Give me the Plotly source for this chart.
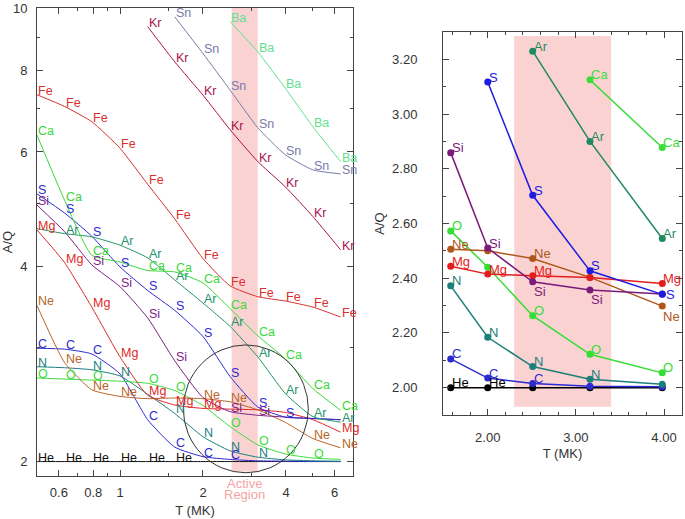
import math
import plotly.graph_objects as go

# ---------------- data ----------------
T = [0.50, 0.63, 0.79, 1.00, 1.26, 1.58, 2.00, 2.51, 3.16, 3.98, 5.01, 6.31]

He = [2.0, 2.0, 2.0, 2.0, 2.0, 2.0, 2.0, 2.0, 2.0, 2.0, 2.0, 2.0]
C = [2.99, 2.98, 2.93, 2.73, 2.32, 2.105, 2.035, 2.015, 2.005, 2.003, 2.001, 2.0]
N = [2.80, 2.79, 2.77, 2.71, 2.54, 2.372, 2.184, 2.077, 2.031, 2.012, 2.005, 2.002]
O = [2.69, 2.68, 2.67, 2.66, 2.64, 2.573, 2.44, 2.263, 2.122, 2.054, 2.025, 2.015]
Ne = [3.48, 2.84, 2.58, 2.52, 2.50, 2.506, 2.50, 2.472, 2.403, 2.298, 2.17, 2.10]
Mg = [4.55, 4.05, 3.46, 2.90, 2.53, 2.444, 2.415, 2.409, 2.403, 2.381, 2.32, 2.22]
Si = [4.97, 4.52, 4.02, 3.72, 3.33, 2.859, 2.51, 2.387, 2.357, 2.342, 2.33, 2.32]
S = [5.17, 4.83, 4.45, 3.99, 3.67, 3.42, 3.117, 2.703, 2.427, 2.341, 2.33, 2.32]
Ar = [4.57, 4.49, 4.44, 4.31, 4.12, 3.81, 3.51, 3.23, 2.90, 2.545, 2.345, 2.30]
Ca = [6.37, 5.05, 4.16, 4.06, 3.94, 3.92, 3.77, 3.44, 3.125, 2.878, 2.59, 2.40]
Fe = [7.35, 7.05, 6.68, 6.08, 5.35, 4.73, 4.11, 3.73, 3.59, 3.535, 3.46, 3.34]
Kr = [None, None, None, None, 9.36, 8.26, 7.34, 6.49, 5.80, 5.30, 4.77, 4.24]
Sn = [None, None, None, None, None, 9.69, 8.51, 7.47, 6.54, 5.94, 5.63, 5.55]
Ba = [None, None, None, None, None, None, None, 9.53, 8.56, 7.52, 6.56, 5.80]

elements = ["He", "C", "N", "O", "Ne", "Mg", "Si", "S", "Ar", "Ca", "Fe", "Kr", "Sn", "Ba"]
values = {"He": He, "C": C, "N": N, "O": O, "Ne": Ne, "Mg": Mg, "Si": Si, "S": S,
          "Ar": Ar, "Ca": Ca, "Fe": Fe, "Kr": Kr, "Sn": Sn, "Ba": Ba}

# indices (on T) where a label is printed in the left panel
left_labels = {
    "He": [0, 1, 2, 3, 4, 5],
    "C": [0, 1, 2, 4, 5, 6, 7],
    "N": [0, 2, 3, 5, 6, 7, 8],
    "O": [0, 1, 2, 4, 5, 7, 8, 9, 10],
    "Ne": [0, 1, 2, 3, 6, 7, 10, 11],
    "Mg": [0, 1, 2, 3, 4, 5, 6, 11],
    "Si": [0, 2, 3, 4, 5, 7, 8],
    "S": [0, 1, 2, 3, 4, 5, 6, 7, 8, 9],
    "Ar": [1, 3, 4, 5, 6, 7, 8, 9, 10, 11],
    "Ca": [0, 1, 2, 4, 5, 6, 7, 8, 9, 10, 11],
    "Fe": list(range(12)),
    "Kr": list(range(4, 12)),
    "Sn": list(range(5, 12)),
    "Ba": list(range(7, 12)),
}

# right panel: temperatures shown (T[5:10]) and label placement per point
RIGHT_START = 5
right_labels = {
    "He": {0: "tr", 1: "tr"},
    "C": {0: "tr", 1: "tr", 2: "tr"},
    "N": {0: "tr", 1: "tr", 2: "tr", 3: "tr"},
    "O": {0: "tr", 2: "tr", 3: "tr", 4: "tr"},
    "Ne": {0: "tr", 2: "tr", 4: "br"},
    "Mg": {0: "tr", 1: "tr", 2: "tr", 4: "tr"},
    "Si": {0: "tr", 1: "tr", 2: "br", 3: "br"},
    "S": {1: "tr", 2: "tr", 3: "tr", 4: "mr"},
    "Ar": {2: "tr", 3: "tr", 4: "tr"},
    "Ca": {3: "tr", 4: "tr"},
}

left_colors = {
    "He": "#111111", "C": "#2b2bd0", "N": "#1b7f80", "O": "#3ddc3d",
    "Ne": "#b8652a", "Mg": "#e02828", "Si": "#7d1f86", "S": "#2a2ad6",
    "Ar": "#22936a", "Ca": "#38d838", "Fe": "#d83030", "Kr": "#a8124e",
    "Sn": "#7a7aa8", "Ba": "#5fe08f",
}
right_colors = {
    "He": "#000000", "C": "#2b2bd0", "N": "#1b7f7a", "O": "#33dd33",
    "Ne": "#b0561a", "Mg": "#e41c1c", "Si": "#7a1a7a", "S": "#1c1ce0",
    "Ar": "#1f8a62", "Ca": "#3cdc3c",
}

band_left = [2.54, 3.16]
band_right = [2.30, 3.40]
YMAX_R = 3.3

# ---------------- geometry ----------------
W, H = 685, 519
def px_x(a, b):
    return [a / W, b / W]
def px_y(top, bottom):
    return [(H - bottom) / H, (H - top) / H]

fig = go.Figure()
FONT = "Arial, Liberation Sans, sans-serif"
annots = []

# left panel curves + labels
for el in elements:
    vals = values[el]
    xs = [t for t, v in zip(T, vals) if v is not None]
    ys = [v for v in vals if v is not None]
    fig.add_trace(go.Scatter(
        x=xs, y=ys, mode="lines",
        line=dict(color=left_colors[el], width=1, shape="spline", smoothing=0.5),
        showlegend=False, xaxis="x", yaxis="y", hoverinfo="skip"))
    for i in left_labels[el]:
        annots.append(dict(x=math.log10(T[i]), y=math.log10(vals[i]), xref="x", yref="y",
                           text=el, showarrow=False, xanchor="left", yanchor="bottom",
                           xshift=0, yshift=-4, borderpad=0,
                           font=dict(color=left_colors[el], size=12.5, family=FONT)))

# right panel
shifts = {"tr": ("left", "middle", 0, 5), "br": ("left", "middle", 0, -10),
          "mr": ("left", "middle", 3, 0)}
for el, lab in right_labels.items():
    vals = values[el][RIGHT_START:RIGHT_START + 5]
    ts = T[RIGHT_START:RIGHT_START + 5]
    pts = [(i, t, v) for i, (t, v) in enumerate(zip(ts, vals)) if v is not None and v < YMAX_R]
    fig.add_trace(go.Scatter(
        x=[p[1] for p in pts], y=[p[2] for p in pts], mode="lines+markers",
        line=dict(color=right_colors[el], width=1.5),
        marker=dict(color=right_colors[el], size=7),
        showlegend=False, xaxis="x2", yaxis="y2", hoverinfo="skip"))
    for i, t, v in pts:
        if i in lab:
            xa, ya, xs_, ys_ = shifts[lab[i]]
            annots.append(dict(x=t, y=v, xref="x2", yref="y2", text=el, showarrow=False,
                               xanchor=xa, yanchor=ya, xshift=xs_, yshift=ys_, borderpad=0,
                               font=dict(color=right_colors[el], size=13, family=FONT)))

axis_common = dict(showline=True, linecolor="#444444", linewidth=1, mirror="ticks",
                   ticks="inside", tickcolor="#444444", ticklen=6, tickwidth=1,
                   showgrid=False, zeroline=False, automargin=False,
                   tickfont=dict(size=13, color="#333333", family=FONT))
minor_common = dict(ticklen=3, ticks="inside", tickcolor="#444444")

fig.update_layout(
    width=W, height=H, margin=dict(l=0, r=0, t=0, b=0, autoexpand=False),
    plot_bgcolor="white", paper_bgcolor="white",
    font=dict(family=FONT, color="#333333"),
    xaxis=dict(domain=px_x(37, 353), type="log", range=[math.log10(0.5), math.log10(7)],
               tickvals=[0.6, 0.8, 1, 2, 4, 6], ticktext=["0.6", "0.8", "1", "2", "4", "6"],
               minor=dict(tickvals=[0.7, 0.9, 1.5, 3, 5], **minor_common),
               ticklabelstandoff=4,
               title=dict(text="T (MK)", font=dict(size=13, color="#333333"), standoff=7),
               anchor="y", **axis_common),
    yaxis=dict(domain=px_y(8, 476), type="log", range=[math.log10(1.9), 1],
               tickvals=[2, 4, 6, 8, 10], ticktext=["2", "4", "6", "8", "10"],
               minor=dict(tickvals=[3, 5, 7, 9], **minor_common),
               ticklabelstandoff=6,
               title=dict(text="A/Q", font=dict(size=13, color="#333333"), standoff=4),
               anchor="x", **axis_common),
    xaxis2=dict(domain=px_x(443, 682), range=[1.4925, 4.204],
                tickvals=[2, 3, 4], tickformat=".2f",
                minor=dict(dtick=0.2, tick0=0, **minor_common),
                ticklabelstandoff=10,
                title=dict(text="T (MK)", font=dict(size=13, color="#333333"), standoff=5),
                anchor="y2", **axis_common),
    yaxis2=dict(domain=px_y(32, 415), range=[1.9, YMAX_R],
                tickvals=[2.0, 2.2, 2.4, 2.6, 2.8, 3.0, 3.2], tickformat=".2f",
                minor=dict(dtick=0.1, tick0=0, **minor_common),
                ticklabelstandoff=22,
                title=dict(text="A/Q", font=dict(size=13, color="#333333"), standoff=4),
                anchor="x2", **axis_common),
    annotations=annots,
)

# active-region bands
fig.add_shape(type="rect", xref="x", yref="y", x0=band_left[0], x1=band_left[1],
              y0=1.93, y1=10, fillcolor="#fbd2d2", line=dict(width=0), layer="below")
fig.add_shape(type="rect", xref="x2", yref="y2", x0=band_right[0], x1=band_right[1],
              y0=1.93, y1=3.285, fillcolor="#fbd2d2", line=dict(width=0), layer="below")
# circle
fig.add_shape(type="circle", xref="x", yref="y", x0=1.697, x1=4.82, y0=1.922, y1=3.025,
              line=dict(color="#333333", width=1))

xc = (math.log10(band_left[0]) + math.log10(band_left[1])) / 2
for txt, ypix in [("Active", 483), ("Region", 494)]:
    fig.add_annotation(x=xc, xref="x", y=(H - ypix) / H, yref="paper", text=txt,
                       showarrow=False, font=dict(size=13, color="#f4a3a3", family=FONT),
                       xanchor="center", yanchor="middle")

fig.write_html("out.html", config={"displayModeBar": False},
               post_script="document.body.style.margin='0';document.body.style.padding='0';"
                           "document.body.style.overflow='hidden';")
